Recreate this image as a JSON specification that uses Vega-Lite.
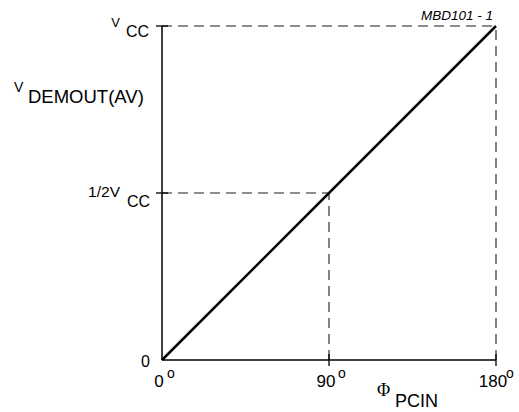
{
  "$schema": "https://vega.github.io/schema/vega-lite/v6.json",
  "width": 334,
  "height": 334,
  "autosize": {"type": "none"},
  "padding": {"left": 162, "top": 26, "right": 23, "bottom": 52},
  "background": "white",
  "config": {"view": {"stroke": null}, "text": {"font": "Liberation Sans", "color": "black"}},
  "datasets": {
    "line": [{"x": 0, "y": 0}, {"x": 180, "y": 1}],
    "axes": [
      {"x": 0, "y": 0, "x2": 180, "y2": 0},
      {"x": 0, "y": 0, "x2": 0, "y2": 1}
    ],
    "dashed": [
      {"x": 0, "y": 1, "x2": 180, "y2": 1},
      {"x": 180, "y": 0, "x2": 180, "y2": 1},
      {"x": 0, "y": 0.5, "x2": 90, "y2": 0.5},
      {"x": 90, "y": 0, "x2": 90, "y2": 0.5}
    ],
    "xticks": [{"x": 90, "y": 0}, {"x": 180, "y": 0}],
    "yticks": [{"x": 0, "y": 0.5}, {"x": 0, "y": 1}],
    "labels": [
      {"key": "vcc_v", "text": "V", "x": 0, "y": 1},
      {"key": "vcc_cc", "text": "CC", "x": 0, "y": 1},
      {"key": "half_v", "text": "1/2V", "x": 0, "y": 0.5},
      {"key": "half_cc", "text": "CC", "x": 0, "y": 0.5},
      {"key": "dem_v", "text": "V", "x": 0, "y": 1},
      {"key": "dem_main", "text": "DEMOUT(AV)", "x": 0, "y": 1},
      {"key": "y0", "text": "0", "x": 0, "y": 0},
      {"key": "xnum", "text": "0", "x": 0, "y": 0},
      {"key": "xnum", "text": "90", "x": 90, "y": 0},
      {"key": "xnum", "text": "180", "x": 180, "y": 0},
      {"key": "deg0", "text": "o", "x": 0, "y": 0},
      {"key": "deg90", "text": "o", "x": 90, "y": 0},
      {"key": "deg180", "text": "o", "x": 180, "y": 0},
      {"key": "phi", "text": "Φ", "x": 90, "y": 0},
      {"key": "pcin", "text": "PCIN", "x": 90, "y": 0},
      {"key": "mbd", "text": "MBD101 - 1", "x": 180, "y": 1}
    ]
  },
  "encoding": {
    "x": {"field": "x", "type": "quantitative", "scale": {"domain": [0, 180], "nice": false, "zero": false}, "axis": null},
    "y": {"field": "y", "type": "quantitative", "scale": {"domain": [0, 1], "nice": false, "zero": false}, "axis": null}
  },
  "layer": [
    {
      "data": {"name": "dashed"},
      "mark": {"type": "rule", "color": "#1a1a1a", "strokeWidth": 1.1, "strokeDash": [10, 6]},
      "encoding": {"x2": {"field": "x2"}, "y2": {"field": "y2"}}
    },
    {
      "data": {"name": "axes"},
      "mark": {"type": "rule", "color": "black", "strokeWidth": 1.5},
      "encoding": {"x2": {"field": "x2"}, "y2": {"field": "y2"}}
    },
    {
      "data": {"name": "xticks"},
      "mark": {"type": "tick", "orient": "vertical", "color": "black", "thickness": 1.3, "size": 12, "opacity": 1},
      "encoding": {}
    },
    {
      "data": {"name": "yticks"},
      "mark": {"type": "tick", "orient": "horizontal", "color": "black", "thickness": 1.3, "size": 12, "opacity": 1},
      "encoding": {}
    },
    {
      "data": {"name": "line"},
      "mark": {"type": "line", "color": "black", "strokeWidth": 2.5},
      "encoding": {}
    },
    {
      "data": {"name": "labels"},
      "transform": [{"filter": "datum.key == 'vcc_v'"}],
      "mark": {"type": "text", "fontSize": 13, "align": "right", "baseline": "alphabetic", "dx": -42, "dy": 1},
      "encoding": {"text": {"field": "text"}}
    },
    {
      "data": {"name": "labels"},
      "transform": [{"filter": "datum.key == 'vcc_cc'"}],
      "mark": {"type": "text", "fontSize": 16, "align": "right", "baseline": "alphabetic", "dx": -13, "dy": 11},
      "encoding": {"text": {"field": "text"}}
    },
    {
      "data": {"name": "labels"},
      "transform": [{"filter": "datum.key == 'half_v'"}],
      "mark": {"type": "text", "fontSize": 15.5, "align": "right", "baseline": "alphabetic", "dx": -42, "dy": 4},
      "encoding": {"text": {"field": "text"}}
    },
    {
      "data": {"name": "labels"},
      "transform": [{"filter": "datum.key == 'half_cc'"}],
      "mark": {"type": "text", "fontSize": 16, "align": "right", "baseline": "alphabetic", "dx": -12, "dy": 14},
      "encoding": {"text": {"field": "text"}}
    },
    {
      "data": {"name": "labels"},
      "transform": [{"filter": "datum.key == 'dem_v'"}],
      "mark": {"type": "text", "fontSize": 14, "align": "left", "baseline": "alphabetic", "dx": -148, "dy": 66},
      "encoding": {"text": {"field": "text"}}
    },
    {
      "data": {"name": "labels"},
      "transform": [{"filter": "datum.key == 'dem_main'"}],
      "mark": {"type": "text", "fontSize": 18.5, "align": "left", "baseline": "alphabetic", "dx": -134, "dy": 77},
      "encoding": {"text": {"field": "text"}}
    },
    {
      "data": {"name": "labels"},
      "transform": [{"filter": "datum.key == 'y0'"}],
      "mark": {"type": "text", "fontSize": 16, "align": "right", "baseline": "alphabetic", "dx": -12, "dy": 7},
      "encoding": {"text": {"field": "text"}}
    },
    {
      "data": {"name": "labels"},
      "transform": [{"filter": "datum.key == 'xnum'"}],
      "mark": {"type": "text", "fontSize": 17, "align": "center", "baseline": "alphabetic", "dx": -3, "dy": 27},
      "encoding": {"text": {"field": "text"}}
    },
    {
      "data": {"name": "labels"},
      "transform": [{"filter": "datum.key == 'deg0'"}],
      "mark": {"type": "text", "fontSize": 14, "align": "left", "baseline": "alphabetic", "dx": 5, "dy": 17.5},
      "encoding": {"text": {"field": "text"}}
    },
    {
      "data": {"name": "labels"},
      "transform": [{"filter": "datum.key == 'deg90'"}],
      "mark": {"type": "text", "fontSize": 14, "align": "left", "baseline": "alphabetic", "dx": 9, "dy": 17.5},
      "encoding": {"text": {"field": "text"}}
    },
    {
      "data": {"name": "labels"},
      "transform": [{"filter": "datum.key == 'deg180'"}],
      "mark": {"type": "text", "fontSize": 14, "align": "left", "baseline": "alphabetic", "dx": 10, "dy": 17.5},
      "encoding": {"text": {"field": "text"}}
    },
    {
      "data": {"name": "labels"},
      "transform": [{"filter": "datum.key == 'phi'"}],
      "mark": {"type": "text", "font": "Liberation Serif", "fontSize": 18, "align": "left", "baseline": "alphabetic", "dx": 48, "dy": 36},
      "encoding": {"text": {"field": "text"}}
    },
    {
      "data": {"name": "labels"},
      "transform": [{"filter": "datum.key == 'pcin'"}],
      "mark": {"type": "text", "fontSize": 18, "align": "left", "baseline": "alphabetic", "dx": 66, "dy": 46.5},
      "encoding": {"text": {"field": "text"}}
    },
    {
      "data": {"name": "labels"},
      "transform": [{"filter": "datum.key == 'mbd'"}],
      "mark": {"type": "text", "fontSize": 13.5, "fontStyle": "italic", "align": "right", "baseline": "alphabetic", "dx": -3, "dy": -6.5},
      "encoding": {"text": {"field": "text"}}
    }
  ]
}
